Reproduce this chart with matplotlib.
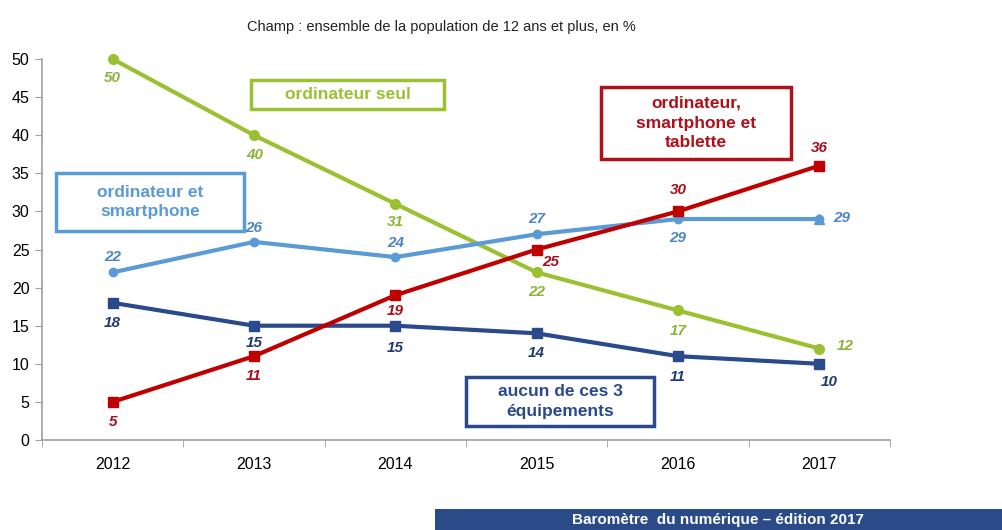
import matplotlib.pyplot as plt
from matplotlib.patches import Rectangle

plt.rcParams['font.family'] = ['Liberation Sans', 'DejaVu Sans']

# Data
years = ['2012', '2013', '2014', '2015', '2016', '2017']
ordi_seul = [50, 40, 31, 22, 17, 12]
ordi_smart = [22, 26, 24, 27, 29, 29]
aucun = [18, 15, 15, 14, 11, 10]
ordi_smart_tab = [5, 11, 19, 25, 30, 36]

GREEN = '#9BC132'
LBLUE = '#5B9BD5'
NAVY = '#2A4A8C'
RED = '#C00000'

W, H = 1003, 530
fig = plt.figure(figsize=(W / 100, H / 100), dpi=100)
ax = fig.add_axes([42 / W, 90 / H, 848 / W, 381 / H])

x = list(range(len(years)))


def draw(vals, color, marker, ms, offsets, label_color):
    ax.plot(x, vals, color=color, lw=3, marker=marker, ms=ms, clip_on=False, zorder=3)
    for xi, v, (dx, dy) in zip(x, vals, offsets):
        ax.annotate(str(v), (xi, v), xytext=(dx, dy), textcoords='offset pixels',
                    ha='center', va='center', fontsize=11, fontweight='bold',
                    fontstyle='italic', color=label_color, zorder=4)


draw(ordi_seul, GREEN, 'o', 7,
     [(0, -19), (1, -20), (0, -18), (0, -20), (0, -21), (26, 3)], '#8DB33A')
draw(ordi_smart, LBLUE, 'o', 6,
     [(0, 15), (0, 14), (0, 14), (0, 15), (0, -19), (22, 1)], '#4F86C6')
ax.plot(x[-1:], ordi_smart[-1:], color=LBLUE, marker='^', ms=7, ls='none', clip_on=False, zorder=3)
draw(aucun, NAVY, 's', 7,
     [(0, -20), (0, -17), (0, -22), (0, -20), (0, -21), (10, -18)], '#233A70')
draw(ordi_smart_tab, RED, 's', 7,
     [(0, -20), (0, -20), (0, -16), (14, -12), (0, 21), (0, 18)], '#A5101A')

ax.set_xlim(-0.5, 5.5)
ax.set_ylim(0, 50)
ax.set_yticks(range(0, 51, 5))
ax.set_xticks(x)
ax.set_xticklabels(years)
ax.set_xticks([i - 0.5 for i in range(len(years) + 1)], minor=True)
ax.tick_params(axis='x', which='major', length=0, pad=12, labelsize=11.5)
ax.tick_params(axis='x', which='minor', length=5, color='#A0A0A0')
ax.tick_params(axis='y', length=5, color='#A0A0A0', labelsize=11.5, pad=4)
for s in ['top', 'right']:
    ax.spines[s].set_visible(False)
for s in ['left', 'bottom']:
    ax.spines[s].set_color('#A0A0A0')
    ax.spines[s].set_linewidth(1.2)


def box(x0, y0, x1, y1, color, text):
    fig.add_artist(Rectangle((x0 / W, 1 - y1 / H), (x1 - x0) / W, (y1 - y0) / H,
                             transform=fig.transFigure, fill=True, facecolor='white',
                             edgecolor=color, lw=2.5, zorder=5))
    fig.text((x0 + x1) / 2 / W, 1 - (y0 + y1) / 2 / H, text, ha='center', va='center',
             fontsize=12.5, fontweight='bold', color=color, linespacing=1.4, zorder=6)


box(251, 80, 444, 109, GREEN, 'ordinateur seul')
box(56, 173, 244, 231, LBLUE, 'ordinateur et\nsmartphone')
box(601, 87, 791, 159, '#B0101A', 'ordinateur,\nsmartphone et\ntablette')
box(466, 377, 654, 426, NAVY, 'aucun de ces 3\néquipements')

fig.text(441 / W, 1 - 27 / H, 'Champ : ensemble de la population de 12 ans et plus, en %',
         ha='center', va='center', fontsize=10.5, color='#222222')

fig.add_artist(Rectangle((435 / W, 0), 1 - 435 / W, 21 / H, transform=fig.transFigure,
                         facecolor='#2B4B88', edgecolor='none'))
fig.text(718 / W, 1 - 520 / H, 'Baromètre  du numérique – édition 2017', ha='center',
         va='center', fontsize=11, fontweight='bold', color='white')

fig.savefig('out.png', dpi=100)
